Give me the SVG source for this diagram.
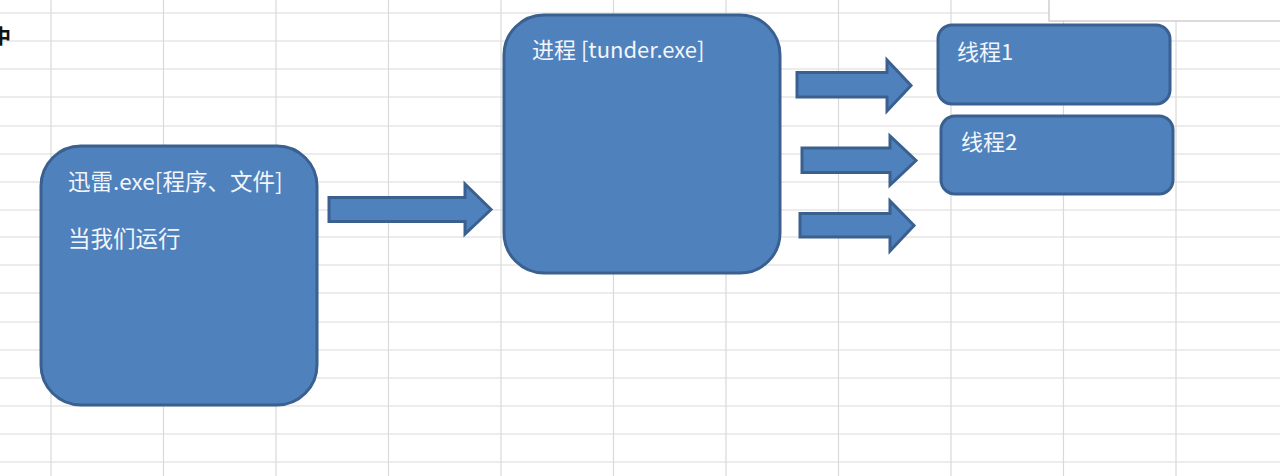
<svg xmlns="http://www.w3.org/2000/svg" width="1280" height="476" viewBox="0 0 1280 476">
<style>
.grid line{stroke:#d9d9d9;stroke-width:1.2}
.node{fill:#4f81bd;stroke:#3a6090;stroke-width:3}
.arrow{fill:#4f81bd;stroke:#3a6090;stroke-width:3;stroke-linejoin:miter}
.lbl{font-family:"Noto Sans CJK SC","Noto Sans",sans-serif;font-size:22.5px;fill:#f2f5fa}
</style>
<rect width="1280" height="476" fill="#ffffff"/>
<g class="grid">
<line x1="51" y1="0" x2="51" y2="476"/>
<line x1="163.5" y1="0" x2="163.5" y2="476"/>
<line x1="276" y1="0" x2="276" y2="476"/>
<line x1="388.5" y1="0" x2="388.5" y2="476"/>
<line x1="501" y1="0" x2="501" y2="476"/>
<line x1="613.5" y1="0" x2="613.5" y2="476"/>
<line x1="726" y1="0" x2="726" y2="476"/>
<line x1="838.5" y1="0" x2="838.5" y2="476"/>
<line x1="951" y1="0" x2="951" y2="476"/>
<line x1="1063.5" y1="0" x2="1063.5" y2="476"/>
<line x1="1176" y1="0" x2="1176" y2="476"/>
<line x1="0" y1="13" x2="1280" y2="13"/>
<line x1="0" y1="41" x2="1280" y2="41"/>
<line x1="0" y1="69" x2="1280" y2="69"/>
<line x1="0" y1="97" x2="1280" y2="97"/>
<line x1="0" y1="126" x2="1280" y2="126"/>
<line x1="0" y1="154" x2="1280" y2="154"/>
<line x1="0" y1="182" x2="1280" y2="182"/>
<line x1="0" y1="210" x2="1280" y2="210"/>
<line x1="0" y1="237" x2="1280" y2="237"/>
<line x1="0" y1="265" x2="1280" y2="265"/>
<line x1="0" y1="293" x2="1280" y2="293"/>
<line x1="0" y1="322" x2="1280" y2="322"/>
<line x1="0" y1="350" x2="1280" y2="350"/>
<line x1="0" y1="378" x2="1280" y2="378"/>
<line x1="0" y1="406" x2="1280" y2="406"/>
<line x1="0" y1="434" x2="1280" y2="434"/>
<line x1="0" y1="462" x2="1280" y2="462"/>
</g>
<rect x="1049" y="-2" width="235" height="23" fill="#ffffff" stroke="#c4c4c4" stroke-width="1.2"/>
<text x="-9" y="44" font-family="'Noto Sans CJK SC',sans-serif" font-size="20" font-weight="bold" fill="#111111">中</text>
<g id="connectors">
<polygon class="arrow" points="329,197.5 465,197.5 465,184 491,209.5 465,234 465,221.5 329,221.5"/>
<polygon class="arrow" points="797,72.5 887,72.5 887,60 911,85.5 887,111 887,97 797,97"/>
<polygon class="arrow" points="802,148 890,148 890,136 916,160.5 890,185 890,172.5 802,172.5"/>
<polygon class="arrow" points="800,213.5 890,213.5 890,201 914,225.5 890,251 890,237 800,237"/>
</g>
<g id="node-program">
<rect class="node" x="41" y="146" width="276" height="259" rx="40" ry="40"/>
<text class="lbl" x="68" y="190">迅雷.exe[程序、文件]</text>
<text class="lbl" x="68" y="247">当我们运行</text>
</g>
<g id="node-process">
<rect class="node" x="504" y="15" width="276" height="258" rx="40" ry="40"/>
<text class="lbl" x="532" y="58" style="font-size:22px">进程 [tunder.exe]</text>
</g>
<g id="node-thread1">
<rect class="node" x="938" y="25" width="232" height="79" rx="14" ry="14"/>
<text class="lbl" x="957" y="60" style="font-size:22px">线程1</text>
</g>
<g id="node-thread2">
<rect class="node" x="941" y="116" width="232" height="78" rx="14" ry="14"/>
<text class="lbl" x="961" y="150" style="font-size:22px">线程2</text>
</g>
</svg>
